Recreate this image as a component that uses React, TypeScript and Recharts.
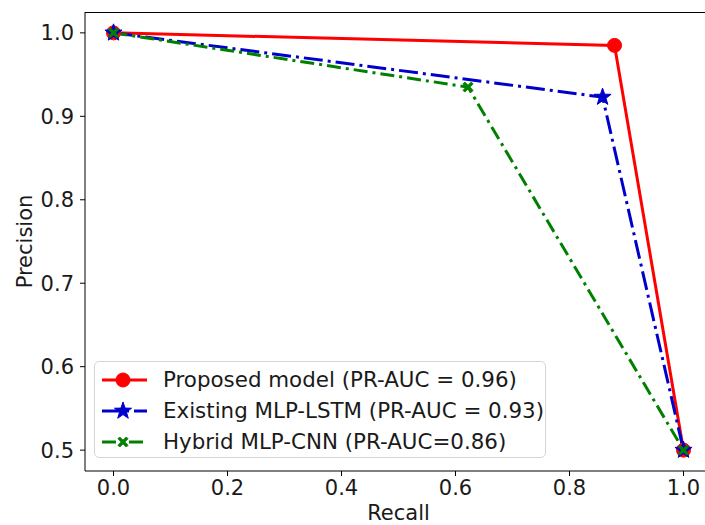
import { LineChart, Line, XAxis, YAxis } from 'recharts';

const recallTicks = [0, 0.2, 0.4, 0.6, 0.8, 1.0];
const precisionTicks = [0.5, 0.6, 0.7, 0.8, 0.9, 1.0];

const proposedRecall = [0, 0.879, 1.0];
const proposedPrecision = [1.0, 0.985, 0.5];
const lstmRecall = [0, 0.858, 1.0];
const lstmPrecision = [1.0, 0.923, 0.5];
const cnnRecall = [0, 0.622, 1.0];
const cnnPrecision = [1.0, 0.935, 0.5];

const FONT = '"DejaVu Sans", sans-serif';
const FS = 21;
const LEGEND_FS = 21.4;
const TEXT = '#1a1a1a';
const RED = '#ff0000';
const BLUE = '#0000cc';
const GREEN = '#008000';

const toPoints = (xs: number[], ys: number[]) => xs.map((x, i) => ({ recall: x, precision: ys[i] }));

const series = [
  { name: 'Proposed model (PR-AUC = 0.96)', data: toPoints(proposedRecall, proposedPrecision), color: RED, dash: undefined, marker: 'circle' },
  { name: 'Existing MLP-LSTM (PR-AUC = 0.93)', data: toPoints(lstmRecall, lstmPrecision), color: BLUE, dash: '19 5 3 5', marker: 'star' },
  { name: 'Hybrid MLP-CNN (PR-AUC=0.86)', data: toPoints(cnnRecall, cnnPrecision), color: GREEN, dash: '14 5 3 5', marker: 'x' },
];

function starPath(cx: number, cy: number, r: number) {
  const pts: string[] = [];
  for (let i = 0; i < 10; i++) {
    const rad = i % 2 === 0 ? r : r * 0.4;
    const a = -Math.PI / 2 + (i * Math.PI) / 5;
    pts.push(`${cx + rad * Math.cos(a)},${cy + rad * Math.sin(a)}`);
  }
  return `M${pts.join('L')}Z`;
}

function xPath(cx: number, cy: number, r: number) {
  const w = r * 0.35;
  // filled "X" marker built from two crossed bars
  const p = [
    [-r + w, -r], [0, -w], [r - w, -r], [r, -r + w], [w, 0], [r, r - w],
    [r - w, r], [0, w], [-r + w, r], [-r, r - w], [-w, 0], [-r, -r + w],
  ];
  return 'M' + p.map(([dx, dy]) => `${cx + dx},${cy + dy}`).join('L') + 'Z';
}

function Marker({ cx, cy, kind, color }: { cx: number; cy: number; kind: string; color: string }) {
  if (kind === 'circle') return <circle cx={cx} cy={cy} r={7} fill={color} stroke={color} />;
  if (kind === 'star') return <path d={starPath(cx, cy, 9)} fill={color} stroke={color} strokeWidth={1} />;
  return <path d={xPath(cx, cy, 5)} fill={color} stroke={color} strokeWidth={1} />;
}

function LegendBox() {
  return (
    <div
      style={{
        position: 'absolute',
        left: 94,
        top: 361,
        width: 452,
        height: 97,
        border: '1.5px solid #d6d6d6',
        borderRadius: 5,
        background: 'rgba(255,255,255,0.8)',
        boxSizing: 'border-box',
        fontFamily: FONT,
        fontSize: LEGEND_FS,
        color: TEXT,
        paddingTop: 2,
      }}
    >
      {series.map((s) => (
        <div key={s.name} style={{ display: 'flex', alignItems: 'center', height: 31 }}>
          <svg width={68} height={20}>
            <line x1={7} y1={10} x2={52} y2={10} stroke={s.color} strokeWidth={3} strokeDasharray={s.dash} />
            <Marker cx={28} cy={10} kind={s.marker} color={s.color} />
          </svg>
          <span style={{ whiteSpace: 'nowrap' }}>{s.name}</span>
        </div>
      ))}
    </div>
  );
}

export default function App() {
  return (
    <div style={{ position: 'absolute', left: 0, top: 0, width: 705, height: 525, overflow: 'hidden', background: '#fff' }}>
      <LineChart width={712} height={525} margin={{ top: 12, right: 0, bottom: 0, left: 0 }}>
        <XAxis
          type="number"
          dataKey="recall"
          domain={[-0.05, 1.05]}
          ticks={recallTicks}
          tickFormatter={(v: number) => v.toFixed(1)}
          height={54}
          stroke="#000"
          tickSize={5}
          tickMargin={4}
          tick={{ fill: TEXT, fontSize: FS, fontFamily: FONT }}
          label={{ value: 'Recall', position: 'insideBottom', offset: 5, fill: TEXT, fontSize: FS, fontFamily: FONT }}
          allowDuplicatedCategory={false}
        />
        <YAxis
          type="number"
          dataKey="precision"
          domain={[0.475, 1.025]}
          ticks={precisionTicks}
          tickFormatter={(v: number) => v.toFixed(1)}
          width={85}
          stroke="#000"
          tickSize={5}
          tickMargin={6}
          tick={{ fill: TEXT, fontSize: FS, fontFamily: FONT }}
          label={{ value: 'Precision', angle: -90, position: 'insideLeft', offset: 25, fill: TEXT, fontSize: FS, fontFamily: FONT, style: { textAnchor: 'middle' } }}
        />
        {series.map((s) => (
          <Line
            key={s.name}
            data={s.data}
            dataKey="precision"
            name={s.name}
            stroke={s.color}
            strokeWidth={3}
            strokeDasharray={s.dash}
            type="linear"
            isAnimationActive={false}
            dot={(p: any) => <Marker key={`${s.name}-${p.index}`} cx={p.cx} cy={p.cy} kind={s.marker} color={s.color} />}
            activeDot={false}
          />
        ))}
      </LineChart>
      <svg width={705} height={525} style={{ position: 'absolute', left: 0, top: 0, pointerEvents: 'none' }}>
        <line x1={85} y1={12.5} x2={705} y2={12.5} stroke="#000" strokeWidth={1} />
      </svg>
      <LegendBox />
    </div>
  );
}
